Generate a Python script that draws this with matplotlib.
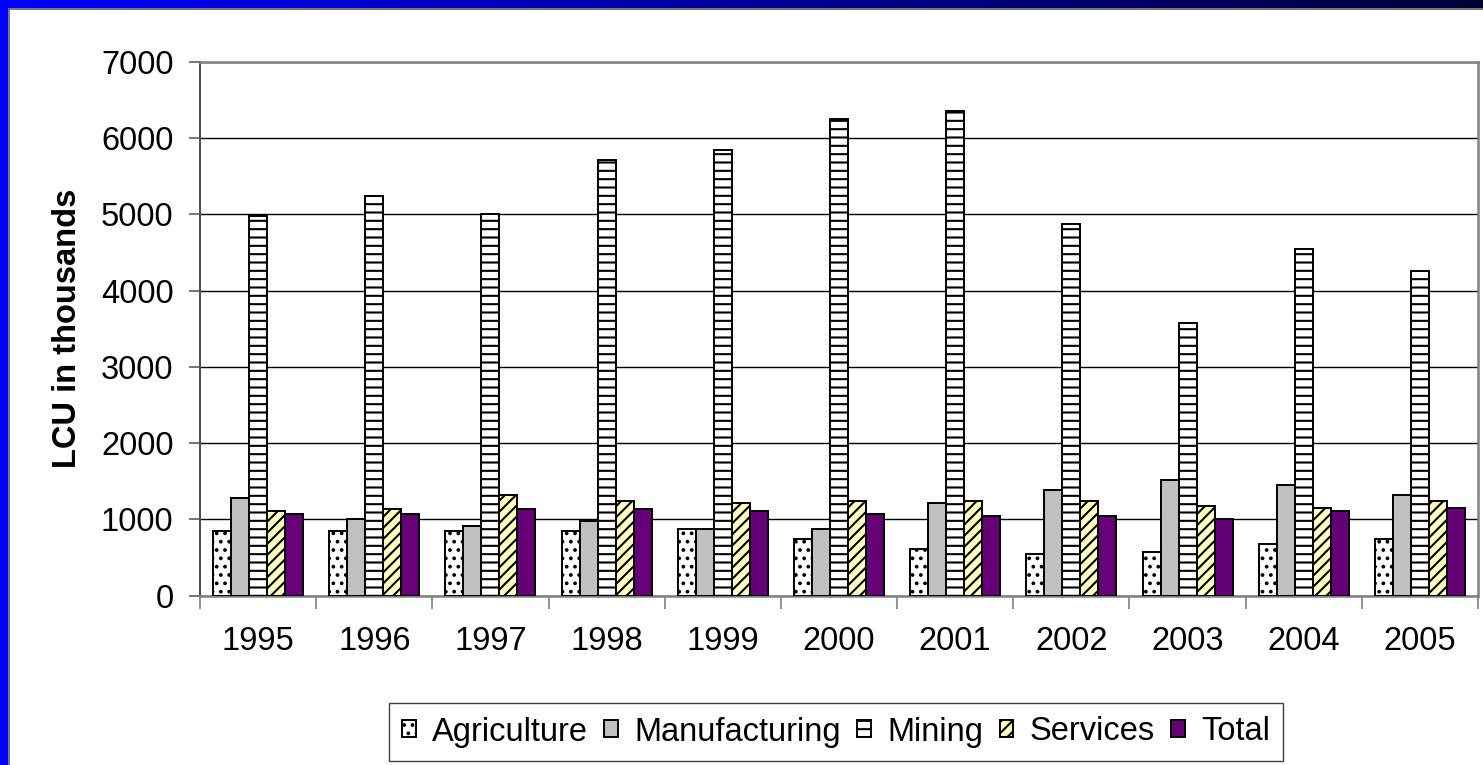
import numpy as np
import matplotlib
matplotlib.use("Agg")
import matplotlib.pyplot as plt
from matplotlib.patches import Rectangle
from matplotlib.lines import Line2D

plt.rcParams['font.family'] = ['Liberation Sans', 'DejaVu Sans']
plt.rcParams['hatch.linewidth'] = 1.5

years = ['1995', '1996', '1997', '1998', '1999', '2000', '2001', '2002', '2003', '2004', '2005']
agriculture = [843, 843, 843, 843, 878, 742, 607, 541, 577, 676, 742]
manufacturing = [1279, 1009, 908, 974, 878, 873, 1210, 1380, 1510, 1446, 1315]
mining = [4975, 5242, 5010, 5718, 5849, 6252, 6351, 4875, 3573, 4548, 4264]
services = [1105, 1140, 1315, 1240, 1210, 1240, 1240, 1240, 1180, 1144, 1240]
total = [1075, 1075, 1140, 1140, 1109, 1075, 1043, 1043, 1009, 1109, 1144]

series_names = ['Agriculture', 'Manufacturing', 'Mining', 'Services', 'Total']
series_values = [agriculture, manufacturing, mining, services, total]
series_fill = ['white', '#C0C0C0', 'white', '#FFFFC0', '#660077']
series_hatch = ['..', None, '--', '///', None]

FS = 23.5
W, H = 1483, 765
fig = plt.figure(figsize=(W / 100, H / 100), dpi=100)
fig.patch.set_facecolor('white')

# Blue frame (slide background)
fig.patches.append(Rectangle((0, 0), 8 / W, 1, transform=fig.transFigure,
                             facecolor='#0000FF', edgecolor='none', zorder=0))
grad_ax = fig.add_axes([0, 1 - 8 / H, 1, 8 / H])
grad = np.zeros((1, 256, 3))
t = np.linspace(0, 1, 256)
grad[0, :, 2] = 1.0 - 0.78 * t
grad_ax.imshow(grad, aspect='auto', extent=[0, 1, 0, 1])
grad_ax.axis('off')
fig.lines.append(Line2D([8.5 / W, 8.5 / W], [0, 1 - 8.5 / H], transform=fig.transFigure,
                        color='#606060', lw=1.2))
fig.lines.append(Line2D([8.5 / W, 1], [1 - 8.5 / H, 1 - 8.5 / H], transform=fig.transFigure,
                        color='#606060', lw=1.2))

ax = fig.add_axes([200 / W, 1 - 595.5 / H, 1278 / W, 533.5 / H])
x = np.arange(len(years))
w = 0.155
handles = []
for k, (name, vals) in enumerate(zip(series_names, series_values)):
    b = ax.bar(x + (k - 2) * w, vals, width=w, color=series_fill[k], edgecolor='black',
               linewidth=1.4, hatch=series_hatch[k], label=name, zorder=3)
    handles.append(b)

ax.set_xlim(-0.5, len(years) - 0.5)
ax.set_ylim(0, 7000)
ax.set_yticks(np.arange(0, 7001, 1000))
ax.set_yticklabels([str(v) for v in range(0, 7001, 1000)], fontsize=FS)
ax.set_xticks(x)
ax.set_xticklabels(years, fontsize=FS)
ax.set_xticks(np.arange(-0.5, len(years), 1), minor=True)
ax.tick_params(axis='x', which='major', length=0, pad=22)
ax.tick_params(axis='x', which='minor', length=9, width=1.2, color='#808080', direction='out')
ax.tick_params(axis='y', which='major', length=8, width=1.2, color='#606060', direction='out', pad=11)
ax.grid(axis='y', color='black', lw=1.0, zorder=1)
ax.set_axisbelow(True)
for s in ['top', 'right', 'bottom']:
    ax.spines[s].set_color('#808080')
    ax.spines[s].set_linewidth(1.8)
ax.spines['left'].set_color('#505050')
ax.spines['left'].set_linewidth(1.5)

fig.text(68 / W, 1 - 328 / H, 'LCU in thousands', rotation=90, ha='center', va='center',
         fontsize=FS, fontweight='bold')

leg = fig.legend(handles=handles, labels=series_names, loc='center',
                 bbox_to_anchor=(836 / W, 1 - 732 / H), ncol=5, fontsize=FS,
                 handlelength=0.42, handleheight=0.42, handletextpad=0.5,
                 columnspacing=0.5, borderpad=0.4, fancybox=False, framealpha=1,
                 edgecolor='#404040', borderaxespad=0)
leg.get_frame().set_linewidth(1.0)

fig.savefig('out.png', dpi=100)
